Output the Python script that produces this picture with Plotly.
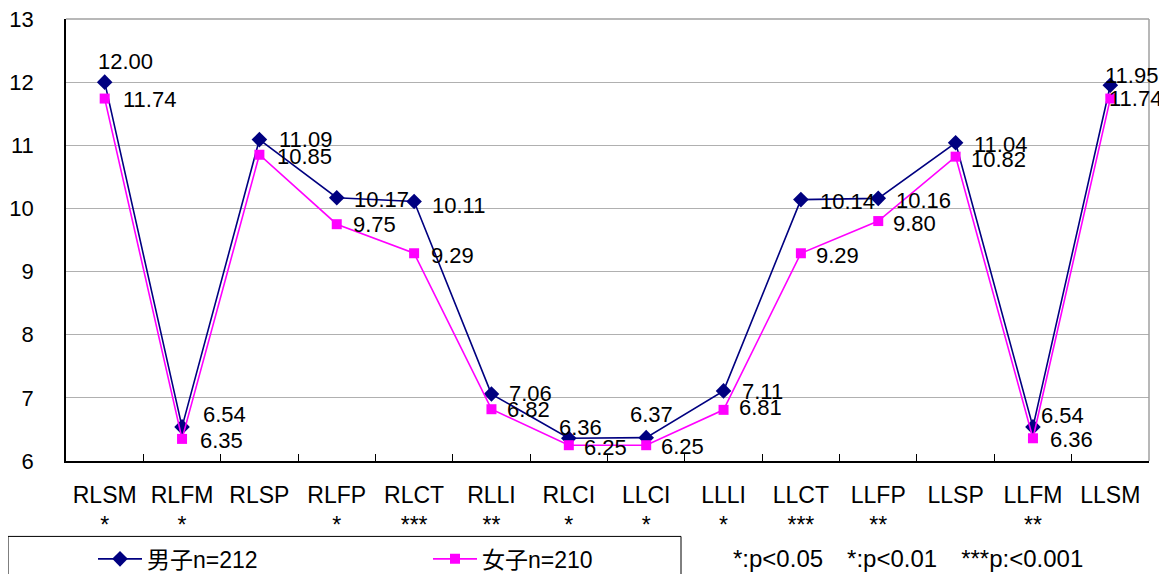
import plotly.graph_objects as go

categories = ["RLSM", "RLFM", "RLSP", "RLFP", "RLCT", "RLLI", "RLCI",
              "LLCI", "LLLI", "LLCT", "LLFP", "LLSP", "LLFM", "LLSM"]
significance = ["*", "*", "", "*", "***", "**", "*",
                "*", "*", "***", "**", "", "**", ""]
male_values = [12.00, 6.54, 11.09, 10.17, 10.11, 7.06, 6.36,
               6.37, 7.11, 10.14, 10.16, 11.04, 6.54, 11.95]
female_values = [11.74, 6.35, 10.85, 9.75, 9.29, 6.82, 6.25,
                 6.25, 6.81, 9.29, 9.80, 10.82, 6.36, 11.74]
male_name = "男子n=212"
female_name = "女子n=210"
note_text = "*:p<0.05　*:p<0.01　***p:<0.001"
y_ticks = [6, 7, 8, 9, 10, 11, 12, 13]

# label offsets (style): pixel shifts of value labels from their markers
male_dx = [-8, 20, 19, 16, 17, 17, -11, -17, 17, 18, 17, 17, 7, -6]
male_dy = [-21, -12, 0, 2, 4, -1, -11, -23, 1, 2, 2, 2, -11, -10]
female_dx = [17, 17, 17, 15, 16, 15, 14, 14, 14, 14, 14, 14, 16, -2]
female_dy = [1, 2, 2, 0, 2, 0, 2, 1, -2, 2, 2, 3, 1, 0]

FONT = "Liberation Sans, Noto Sans CJK JP, sans-serif"
NAVY = "#000080"
MAGENTA = "#FF00FF"

tick_text = [f"{c}<br>{s}" if s else f"{c}<br> " for c, s in zip(categories, significance)]

# the page body adds an 8px margin, so the figure is sized/offset accordingly
OFF = 8
W, H = 1167 - OFF, 574 - OFF
PLOT_L, PLOT_R, PLOT_T, PLOT_B = 66, 1149, 19, 461.5   # in window pixels
L = PLOT_L - OFF
T = PLOT_T - OFF
R = W - (PLOT_R - OFF)
B = H - (PLOT_B - OFF)
pw = PLOT_R - PLOT_L
ph = PLOT_B - PLOT_T


def px_to_paper_x(px):
    return (px - PLOT_L) / pw


def px_to_paper_y(py):
    return (PLOT_B - py) / ph


fig = go.Figure()
fig.add_trace(go.Scatter(
    x=categories, y=male_values, name=male_name, mode="lines+markers",
    line=dict(color=NAVY, width=1.6),
    marker=dict(symbol="diamond", size=12, color=NAVY),
    cliponaxis=False,
))
fig.add_trace(go.Scatter(
    x=categories, y=female_values, name=female_name, mode="lines+markers",
    line=dict(color=MAGENTA, width=1.6),
    marker=dict(symbol="square", size=10, color=MAGENTA),
    cliponaxis=False,
))

annotations = []
for c, v, dx, dy in zip(categories, male_values, male_dx, male_dy):
    annotations.append(dict(x=c, y=v, xref="x", yref="y", text=f"{v:.2f}",
                            showarrow=False, xanchor="left", yanchor="middle",
                            xshift=dx, yshift=-dy, borderpad=0,
                            font=dict(family=FONT, size=22, color="black")))
for c, v, dx, dy in zip(categories, female_values, female_dx, female_dy):
    annotations.append(dict(x=c, y=v, xref="x", yref="y", text=f"{v:.2f}",
                            showarrow=False, xanchor="left", yanchor="middle",
                            xshift=dx, yshift=-dy, borderpad=0,
                            font=dict(family=FONT, size=22, color="black")))
annotations.append(dict(x=px_to_paper_x(731), y=px_to_paper_y(559),
                        xref="paper", yref="paper", text=note_text,
                        showarrow=False, xanchor="left", yanchor="middle",
                        font=dict(family=FONT, size=24, color="black")))

fig.update_layout(
    width=W, height=H,
    margin=dict(l=L, r=R, t=T, b=B, pad=0, autoexpand=False),
    paper_bgcolor="white", plot_bgcolor="white",
    font=dict(family=FONT, size=22, color="black"),
    annotations=annotations,
    showlegend=True,
    legend=dict(
        orientation="h", x=px_to_paper_x(93), y=px_to_paper_y(538),
        xanchor="left", yanchor="top",
        bgcolor="rgba(0,0,0,0)", borderwidth=0,
        itemwidth=44, entrywidth=276, entrywidthmode="pixels",
        font=dict(family=FONT, size=23, color="black"),
        traceorder="normal",
    ),
    shapes=[dict(type="rect", xref="paper", yref="paper",
                 x0=px_to_paper_x(8), x1=px_to_paper_x(681),
                 y0=px_to_paper_y(537), y1=px_to_paper_y(600),
                 line=dict(color="black", width=1), fillcolor="rgba(0,0,0,0)",
                 layer="above"),
            dict(type="line", xref="paper", yref="paper", x0=0, x1=1, y0=1, y1=1,
                 line=dict(color="#A0A0A0", width=1.5)),
            dict(type="line", xref="paper", yref="paper", x0=1, x1=1, y0=0, y1=1,
                 line=dict(color="#A0A0A0", width=1.5))],
    xaxis=dict(
        type="category", tickmode="array", tickvals=categories, ticktext=tick_text,
        tickson="boundaries", ticks="inside", ticklen=7, tickcolor="black",
        showgrid=False, showline=True, linecolor="black", linewidth=1.5,
        mirror=False, ticklabelstandoff=13, automargin=False,
        tickfont=dict(family=FONT, size=23, color="black"),
        range=[-0.5, len(categories) - 0.5], fixedrange=True,
    ),
    yaxis=dict(
        range=[6, 13], tickmode="array", tickvals=y_ticks,
        ticktext=[str(t) for t in y_ticks],
        showgrid=True, gridcolor="#B0B0B0", gridwidth=1,
        showline=True, linecolor="black", linewidth=1.5,
        ticks="", ticklabelstandoff=26, zeroline=False, automargin=False,
        ticklabeloverflow="allow",
        tickfont=dict(family=FONT, size=22, color="black"), fixedrange=True,
    ),
)

fig.write_html("out.html")
